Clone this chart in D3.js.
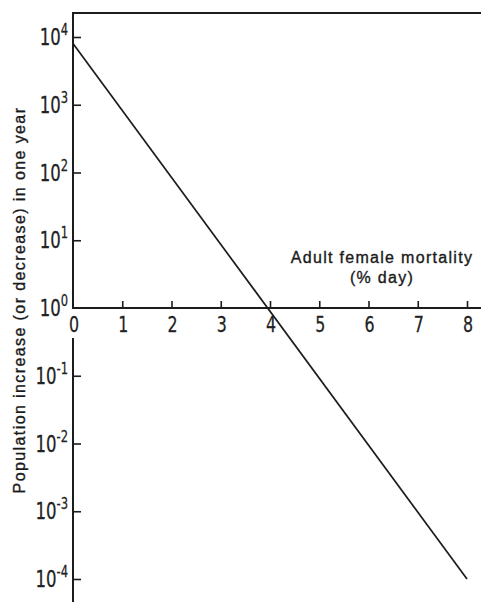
<!DOCTYPE html>
<html>
<head>
<meta charset="utf-8">
<script src="https://cdn.jsdelivr.net/npm/d3@7"></script>
<style>
  html, body { margin: 0; padding: 0; background: #fff; }
  svg { display: block; }
  .num { font-family: "DejaVu Sans Condensed", "DejaVu Sans", sans-serif; fill: #222; stroke: #222; stroke-width: 0.25px; }
  .title { font-family: "Liberation Sans", Arial, sans-serif; fill: #1a1a1a; stroke: #1a1a1a; stroke-width: 0.35px; }
</style>
</head>
<body>
<svg id="chart" width="481" height="602"></svg>
<script>
// Adult female mortality (% per day) against yearly population change
const mortality = [0, 8];
const increase = [8000, 1e-4];

const xTicks = [0, 1, 2, 3, 4, 5, 6, 7, 8];
const yTickExponents = [4, 3, 2, 1, 0, -1, -2, -3, -4];

const xLabelLines = ["Adult female mortality", "(% day)"];
const yLabel = "Population increase (or decrease) in one year";

const W = 481, H = 602;
const left = 73, right = 467, frameTop = 13;
const squeeze = 0.8; // narrow the numerals horizontally

const svg = d3.select("#chart");

const x = d3.scaleLinear().domain([0, 8]).range([left, right]);
const y = d3.scaleLog().domain([1e-4, 1e4]).range([579, 37]);

const ink = "#1c1c1c";
const y0 = y(1);

// Top frame line
svg.append("line")
  .attr("x1", left).attr("x2", W)
  .attr("y1", frameTop).attr("y2", frameTop)
  .attr("stroke", ink).attr("stroke-width", 2);

// Vertical axis, interrupted where the x tick labels sit
svg.append("line")
  .attr("x1", left).attr("x2", left)
  .attr("y1", frameTop - 1).attr("y2", y0 + 1)
  .attr("stroke", ink).attr("stroke-width", 2);
svg.append("line")
  .attr("x1", left).attr("x2", left)
  .attr("y1", y0 + 30).attr("y2", H)
  .attr("stroke", ink).attr("stroke-width", 2);

// Horizontal axis through 10^0
svg.append("line")
  .attr("x1", left - 1).attr("x2", W)
  .attr("y1", y0).attr("y2", y0)
  .attr("stroke", ink).attr("stroke-width", 2);

// Y ticks (pointing inward)
const yAxis = svg.append("g")
  .attr("transform", `translate(${left},0)`)
  .call(d3.axisRight(y)
    .tickValues(yTickExponents.filter(e => e !== 0).map(e => Math.pow(10, e)))
    .tickSize(8)
    .tickFormat(""));
yAxis.select(".domain").remove();
yAxis.selectAll(".tick line").attr("stroke", ink).attr("stroke-width", 1.6);

// X ticks (pointing up from the axis)
const xAxis = svg.append("g")
  .attr("transform", `translate(0,${y0})`)
  .call(d3.axisTop(x).tickValues(xTicks.slice(1)).tickSize(7).tickFormat(""));
xAxis.select(".domain").remove();
xAxis.selectAll(".tick line").attr("stroke", ink).attr("stroke-width", 1.6);

// X tick labels
svg.append("g").selectAll("text")
  .data(xTicks)
  .join("text")
  .attr("class", "num")
  .attr("transform", d => `translate(${x(d) + 1},${y0 + 24}) scale(${squeeze},1)`)
  .attr("text-anchor", "middle")
  .attr("font-size", 22)
  .text(d => d);

// Y tick labels as powers of ten
const yl = svg.append("g").selectAll("text")
  .data(yTickExponents)
  .join("text")
  .attr("class", "num")
  .attr("transform", d => `translate(68,${y(Math.pow(10, d)) + 8}) scale(${squeeze},1)`)
  .attr("text-anchor", "end")
  .attr("font-size", 23);
yl.append("tspan").text("10");
yl.append("tspan")
  .attr("font-size", 16)
  .attr("dy", -10)
  .text(d => d < 0 ? "-" + Math.abs(d) : d);

// Data line
svg.append("path")
  .datum(mortality.map((m, i) => [m, increase[i]]))
  .attr("fill", "none")
  .attr("stroke", ink)
  .attr("stroke-width", 1.7)
  .attr("d", d3.line().x(d => x(d[0])).y(d => y(d[1])));

// X axis title, placed inside the plot above the axis
const xt = svg.append("text")
  .attr("class", "title")
  .attr("text-anchor", "middle")
  .attr("font-size", 16)
  .attr("letter-spacing", 1.3);
xLabelLines.forEach((t, i) => {
  xt.append("tspan").attr("x", 382).attr("y", 263 + i * 20).text(t);
});

// Y axis title
svg.append("text")
  .attr("class", "title")
  .attr("transform", "translate(25,300) rotate(-90)")
  .attr("text-anchor", "middle")
  .attr("font-size", 16)
  .attr("letter-spacing", 1.4)
  .text(yLabel);
</script>
</body>
</html>
